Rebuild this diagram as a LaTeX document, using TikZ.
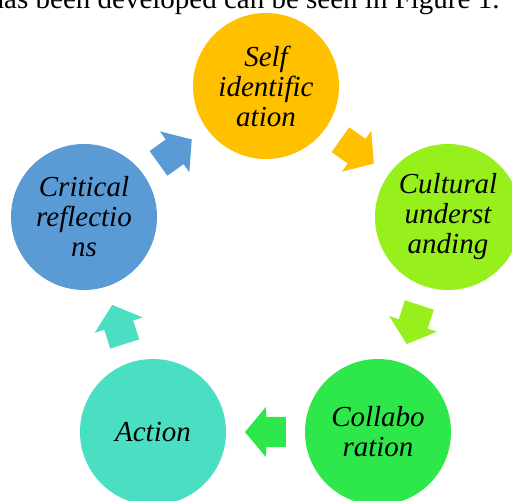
\documentclass[tikz,border=0pt]{standalone}
\usepackage{fontspec}
\setmainfont{Liberation Serif}
\usetikzlibrary{shapes.arrows, calc}
\definecolor{cself}{HTML}{FFC000}
\definecolor{ccult}{HTML}{97EF1C}
\definecolor{ccoll}{HTML}{2EE84B}
\definecolor{cact}{HTML}{4ADFC2}
\definecolor{ccrit}{HTML}{5B9BD5}
\begin{document}
\begin{tikzpicture}[x=1pt, y=1pt,
  stage/.style = {circle, minimum size=146, inner sep=0, align=center,
    font=\fontsize{29}{30}\selectfont\itshape},
  flow/.style = {single arrow, minimum height=41, inner xsep=0, inner ysep=15,
    single arrow head extend=10, single arrow tip angle=100, pos=0.42,
    sloped, allow upside down},
  ]
  \useasboundingbox (0,-501) rectangle (512,0);
  \node[anchor=base east, font=\fontsize{29}{30}\selectfont] (caption) at (503,-8.5)
    {has been developed can be seen in Figure 1.};

  \node[stage, fill=cself] (self) at (266,-86) {Self\\identific\\ation};
  \node[stage, fill=ccult] (cult) at (448,-217) {Cultural\\underst\\anding};
  \node[stage, fill=ccoll] (coll) at (378,-432) {Collabo\\ration};
  \node[stage, fill=cact] (act) at (153,-432) {Action};
  \node[stage, fill=ccrit] (crit) at (84,-217) {Critical\\reflectio\\ns};

  \path (self) -- node[flow, fill=cself] (f1) {} (cult);
  \path (cult) -- node[flow, fill=ccult] (f2) {} (coll);
  \path (coll) -- node[flow, fill=ccoll] (f3) {} (act);
  \path (act) -- node[flow, fill=cact] (f4) {} (crit);
  \path (crit) -- node[flow, fill=ccrit] (f5) {} (self);
\end{tikzpicture}
\end{document}
